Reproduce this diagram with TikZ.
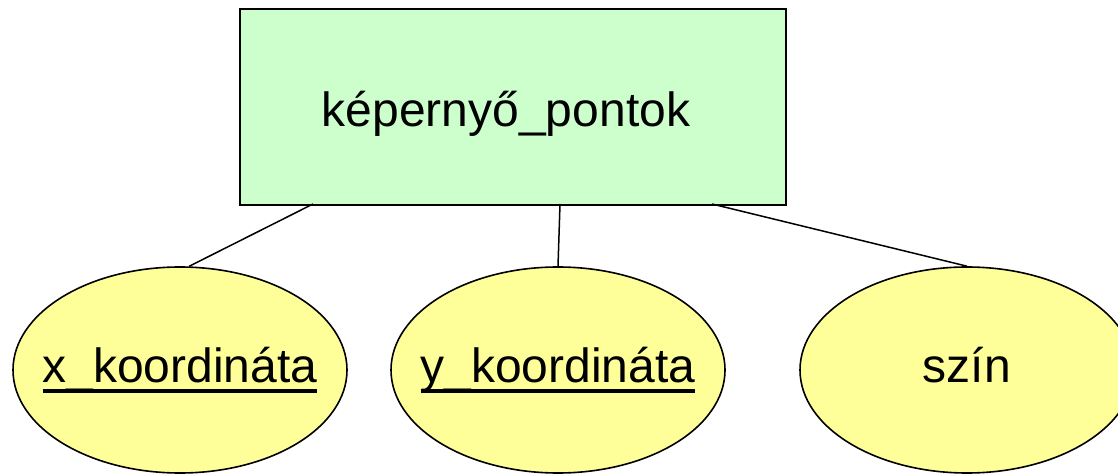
\documentclass[tikz,border=0pt]{standalone}
\usepackage{fontspec}
\setmainfont{Liberation Sans}
\usetikzlibrary{shapes.geometric}
\definecolor{boxgreen}{HTML}{CCFFCC}
\definecolor{ellyellow}{HTML}{FFFF99}
\newcommand\attrul[1]{\setbox0\hbox{#1}\rlap{\rule[-0.205em]{\wd0}{0.07em}}\box0}
\begin{document}
\begin{tikzpicture}[x=0.5pt,y=-0.5pt,
  entitybox/.style={draw=black,fill=boxgreen,line width=0.8pt,minimum width=273pt,minimum height=98pt,inner sep=0pt,font=\fontsize{24}{28}\selectfont,text height=20pt,text depth=0pt},
  attr/.style={ellipse,draw=black,fill=ellyellow,line width=0.8pt,minimum width=167pt,minimum height=103pt,inner sep=0pt,font=\fontsize{24}{28}\selectfont,text height=17pt,text depth=4pt},
  conn/.style={draw=black,line width=0.75pt}]
\useasboundingbox (0,0) rectangle (1118,475);
\clip (0,0) rectangle (1118,475);
\node[entitybox] (box) at (513,107) {\kern-7pt képernyő\_pontok};
\node[attr] (e1) at (180,370) {\makebox[0pt]{\attrul{x\_koordináta}}};
\node[attr] (e2) at (558,370) {\makebox[0pt]{\attrul{y\_koordináta}}};
\node[attr] (e3) at (967,370) {\makebox[0pt]{szín}};
\coordinate (c1) at (313,204);
\coordinate (c2) at (560,204);
\coordinate (c3) at (712,204);
\draw[conn] (c1) -- (e1.85);
\draw[conn] (c2) -- (e2.north);
\draw[conn] (c3) -- (e3.north);
\end{tikzpicture}
\end{document}
